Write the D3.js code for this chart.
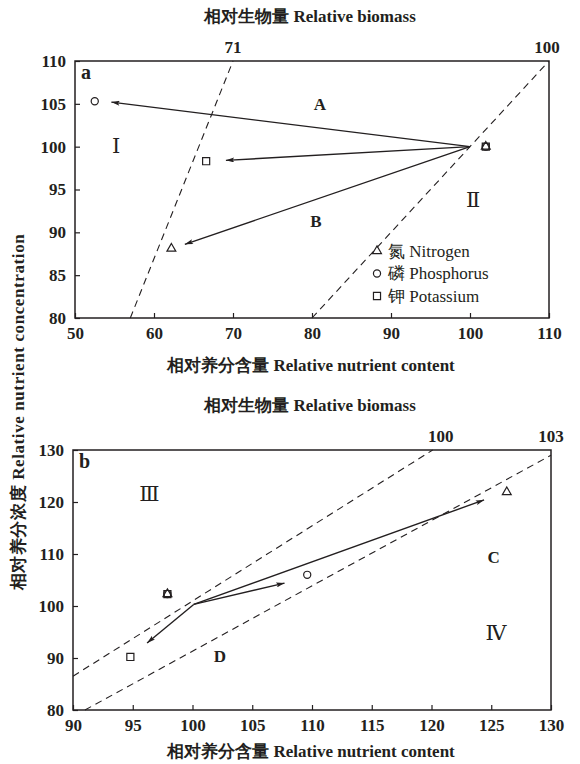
<!DOCTYPE html>
<html>
<head>
<meta charset="UTF-8">
<style>
  body { margin: 0; background: #fff; }
</style>
</head>
<body>
<svg id="chart" width="580" height="764"></svg>
<script src="https://cdn.jsdelivr.net/npm/d3@7"></script>
<script>
// ---- panel a data ----
const aXTicks = [50, 60, 70, 80, 90, 100, 110];
const aYTicks = [80, 85, 90, 95, 100, 105, 110];
const aIsoLabels = ["71", "100"];
const aIsoLines = [[[57, 80], [70, 110]], [[80, 80], [110, 110]]];
const aOrigin = [100, 100];
const aArrowEnds = [[54.6, 105.2], [69.1, 98.4], [63.9, 88.6]];
const aNitrogen = [[62.2, 88.1], [102, 100]];
const aPhosphorus = [[52.5, 105.3], [102, 100]];
const aPotassium = [[66.6, 98.3], [102, 100]];
const aZones = [["A", 81, 104.9, "zone"], ["B", 80.5, 91.3, "zone"], ["Ⅰ", 55.2, 100.1, "roman"], ["Ⅱ", 100.4, 93.8, "roman"]];

// ---- panel b data ----
const bXTicks = [90, 95, 100, 105, 110, 115, 120, 125, 130];
const bYTicks = [80, 90, 100, 110, 120, 130];
const bIsoLabels = ["100", "103"];
const bIsoLines = [[[90, 86.5], [120.1, 130]], [[91, 80], [130, 129]]];
const bOrigin = [100.1, 100.3];
const bArrowEnds = [[124.4, 120.4], [107.7, 104.4], [96.2, 92.9]];
const bNitrogen = [[126.3, 121.9], [97.9, 102.3]];
const bPhosphorus = [[109.6, 106], [97.9, 102.3]];
const bPotassium = [[94.8, 90.2], [97.9, 102.3]];
const bZones = [["C", 125.2, 109.4, "zone"], ["D", 102.3, 90.2, "zone"], ["Ⅲ", 96.4, 121.5, "roman"], ["Ⅳ", 125.4, 94.8, "roman"]];

const legendNames = ["氮 Nitrogen", "磷 Phosphorus", "钾 Potassium"];

const svg = d3.select("#chart");
const ink = "#231f20";

svg.append("defs").append("marker")
  .attr("id", "head")
  .attr("viewBox", "0 0 10 6")
  .attr("refX", 10).attr("refY", 3)
  .attr("markerWidth", 10).attr("markerHeight", 5)
  .attr("markerUnits", "userSpaceOnUse")
  .attr("orient", "auto")
  .append("path").attr("d", "M0,0L10,3L0,6L2,3Z").attr("fill", ink);

const sym = {
  tri: d3.symbol().type(d3.symbolTriangle).size(34),
  circ: d3.symbol().type(d3.symbolCircle).size(40),
  sq: d3.symbol().type(d3.symbolSquare).size(50)
};

// text helper: serif face, size, weight
function styleText(sel, size, bold) {
  return sel.style("font-family", '"Liberation Serif"')
    .style("font-size", size + "px")
    .style("font-weight", bold ? "bold" : "normal")
    .attr("fill", ink);
}

function panel(o) {
  const g = svg.append("g").attr("transform", `translate(${o.left},${o.top})`);
  const x = d3.scaleLinear().domain(o.xDomain).range([0, o.w]);
  const y = d3.scaleLinear().domain(o.yDomain).range([o.h, 0]);

  // isolines (dashed)
  o.iso.forEach((l, i) => {
    g.append("line")
      .attr("x1", x(l[0][0])).attr("y1", y(l[0][1]))
      .attr("x2", x(l[1][0])).attr("y2", y(l[1][1]))
      .attr("stroke", ink).attr("stroke-width", 1.1).attr("stroke-dasharray", "7,5");
    styleText(g.append("text"), 17, true)
      .attr("x", x(l[1][0]) + o.isoDx[i])
      .attr("y", y(o.yDomain[1]) - 8)
      .attr("text-anchor", "middle")
      .text(o.isoLabels[i]);
  });

  // axes with inward ticks
  const xa = g.append("g").attr("transform", `translate(0,${o.h})`)
    .call(d3.axisBottom(x).tickValues(o.xTicks).tickSize(-5).tickPadding(9));
  const ya = g.append("g")
    .call(d3.axisLeft(y).tickValues(o.yTicks).tickSize(-5).tickPadding(9));
  [xa, ya].forEach(a => {
    a.attr("font-family", null).attr("font-size", null);
    a.select(".domain").remove();
    a.selectAll("line").attr("stroke", ink).attr("stroke-width", 1.2);
    styleText(a.selectAll("text"), 17, true);
  });

  g.append("rect").attr("width", o.w).attr("height", o.h)
    .attr("fill", "none").attr("stroke", ink).attr("stroke-width", 1.5);

  // arrows
  o.arrows.forEach(e => {
    g.append("line")
      .attr("x1", x(o.origin[0])).attr("y1", y(o.origin[1]))
      .attr("x2", x(e[0])).attr("y2", y(e[1]))
      .attr("stroke", ink).attr("stroke-width", 1.4)
      .attr("marker-end", "url(#head)");
  });

  // markers
  const drawSet = (pts, s) => g.selectAll(null).data(pts).enter().append("path")
    .attr("d", s)
    .attr("transform", d => `translate(${x(d[0])},${y(d[1])})`)
    .attr("fill", "none").attr("stroke", ink).attr("stroke-width", 1.2);
  drawSet(o.K, sym.sq);
  drawSet(o.P, sym.circ);
  drawSet(o.N, sym.tri);

  o.zones.forEach(z => {
    const t = g.append("text")
      .attr("x", x(z[1])).attr("y", y(z[2]))
      .attr("text-anchor", "middle").attr("dominant-baseline", "central")
      .text(z[0]);
    if (z[3] === "roman") {
      t.style("font-family", '"DejaVu Serif"').style("font-size", "21px").attr("fill", ink);
    } else {
      styleText(t, 17, true);
    }
  });

  styleText(g.append("text"), 20, true)
    .attr("x", 6).attr("y", 18).text(o.tag);

  // titles
  styleText(svg.append("text"), 17, true).attr("text-anchor", "middle")
    .attr("x", 310).attr("y", o.top - 39).text("相对生物量 Relative biomass");
  styleText(svg.append("text"), 17, true).attr("text-anchor", "middle")
    .attr("x", 311).attr("y", o.top + o.h + o.xtDy).text("相对养分含量 Relative nutrient content");
  return g;
}

const ga = panel({
  left: 75, top: 61, w: 474, h: 257, tag: "a", xtDy: 53,
  xDomain: [50, 110], yDomain: [80, 110], xTicks: aXTicks, yTicks: aYTicks,
  iso: aIsoLines, isoLabels: aIsoLabels, isoDx: [0, -2],
  origin: aOrigin, arrows: aArrowEnds,
  N: aNitrogen, P: aPhosphorus, K: aPotassium, zones: aZones
});

panel({
  left: 73, top: 450, w: 478, h: 260, tag: "b", xtDy: 47,
  xDomain: [90, 130], yDomain: [80, 130], xTicks: bXTicks, yTicks: bYTicks,
  iso: bIsoLines, isoLabels: bIsoLabels, isoDx: [8, 0],
  origin: bOrigin, arrows: bArrowEnds,
  N: bNitrogen, P: bPhosphorus, K: bPotassium, zones: bZones
});

// legend in panel a
const lg = ga.append("g").attr("transform", "translate(302,190)");
[sym.tri, sym.circ, sym.sq].forEach((s, i) => {
  lg.append("path").attr("d", s).attr("transform", `translate(0,${i * 22.5})`)
    .attr("fill", "none").attr("stroke", ink).attr("stroke-width", 1.2);
  styleText(lg.append("text"), 17, false)
    .attr("x", 11).attr("y", i * 22.5).attr("dominant-baseline", "central")
    .text(legendNames[i]);
});

// shared y title
styleText(svg.append("text"), 17, true).attr("text-anchor", "middle")
  .style("letter-spacing", "0.6px")
  .attr("transform", "translate(24,412) rotate(-90)")
  .text("相对养分浓度 Relative nutrient concentration");
</script>
</body>
</html>
